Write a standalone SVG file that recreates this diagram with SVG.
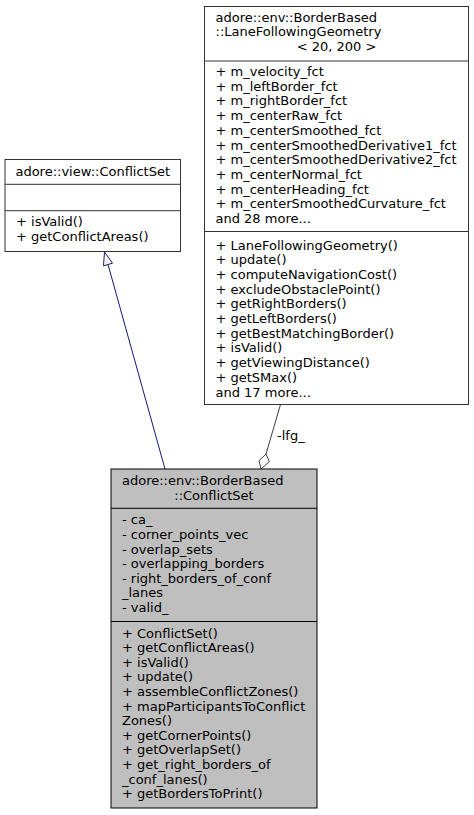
<svg xmlns="http://www.w3.org/2000/svg" width="474" height="815" viewBox="0 0 474 815">
<style>
text { font-family: "DejaVu Sans", sans-serif; font-size: 13px; fill: #000; }
.box { fill: #fff; stroke: #333; stroke-width: 1; }
.main { fill: #bfbfbf; stroke: #000; stroke-width: 1; }
.sep { stroke: #333; stroke-width: 1; }
.msep { stroke: #000; stroke-width: 1; }
.c { text-anchor: middle; }
</style>
<rect width="474" height="815" fill="#fff"/>
<g id="edges">
  <path d="M165,469 L108,264.5" stroke="#191970" fill="none"/>
  <polygon points="104.5,252 103.5,265.8 112.5,263.2" fill="#fff" stroke="#191970"/>
  <path d="M280.5,404.5 L266,454" stroke="#404040" fill="none"/>
  <polygon points="266,454 269.3,461.7 261,469 259,460.7" fill="#fff" stroke="#404040"/>
  <text x="277" y="440">-lfg_</text>
</g>
<g id="node-lfg">
  <rect class="box" x="204.5" y="6.5" width="264" height="398"/>
  <line class="sep" x1="204.5" y1="61" x2="468.5" y2="61"/>
  <line class="sep" x1="204.5" y1="231.5" x2="468.5" y2="231.5"/>
  <text x="215.5" y="21.5">adore::env::BorderBased</text>
  <text x="215.5" y="36.1">::LaneFollowingGeometry</text>
  <text class="c" x="336.5" y="50.7">&lt; 20, 200 &gt;</text>
  <text x="215.5" y="76">+ m_velocity_fct</text>
  <text x="215.5" y="90.7">+ m_leftBorder_fct</text>
  <text x="215.5" y="105.4">+ m_rightBorder_fct</text>
  <text x="215.5" y="120.1">+ m_centerRaw_fct</text>
  <text x="215.5" y="134.8">+ m_centerSmoothed_fct</text>
  <text x="215.5" y="149.5">+ m_centerSmoothedDerivative1_fct</text>
  <text x="215.5" y="164.2">+ m_centerSmoothedDerivative2_fct</text>
  <text x="215.5" y="178.9">+ m_centerNormal_fct</text>
  <text x="215.5" y="193.6">+ m_centerHeading_fct</text>
  <text x="215.5" y="208.3">+ m_centerSmoothedCurvature_fct</text>
  <text x="215.5" y="223">and 28 more...</text>
  <text x="215.5" y="249.5">+ LaneFollowingGeometry()</text>
  <text x="215.5" y="264.2">+ update()</text>
  <text x="215.5" y="278.9">+ computeNavigationCost()</text>
  <text x="215.5" y="293.6">+ excludeObstaclePoint()</text>
  <text x="215.5" y="308.3">+ getRightBorders()</text>
  <text x="215.5" y="323">+ getLeftBorders()</text>
  <text x="215.5" y="337.7">+ getBestMatchingBorder()</text>
  <text x="215.5" y="352.4">+ isValid()</text>
  <text x="215.5" y="367.1">+ getViewingDistance()</text>
  <text x="215.5" y="381.8">+ getSMax()</text>
  <text x="215.5" y="396.5">and 17 more...</text>
</g>
<g id="node-view-conflictset">
  <rect class="box" x="5" y="159.5" width="175.5" height="92"/>
  <line class="sep" x1="5" y1="184.3" x2="180.5" y2="184.3"/>
  <line class="sep" x1="5" y1="210.7" x2="180.5" y2="210.7"/>
  <text class="c" x="92.75" y="176">adore::view::ConflictSet</text>
  <text x="16" y="226">+ isValid()</text>
  <text x="16" y="240.5">+ getConflictAreas()</text>
</g>
<g id="node-env-conflictset">
  <rect class="main" x="111" y="469" width="206" height="339"/>
  <line class="msep" x1="111" y1="508.3" x2="317" y2="508.3"/>
  <line class="msep" x1="111" y1="621.5" x2="317" y2="621.5"/>
  <text x="122" y="485">adore::env::BorderBased</text>
  <text class="c" x="214" y="499.6">::ConflictSet</text>
  <text x="122" y="524.3">- ca_</text>
  <text x="122" y="538.9">- corner_points_vec</text>
  <text x="122" y="553.5">- overlap_sets</text>
  <text x="122" y="568.1">- overlapping_borders</text>
  <text x="122" y="582.7">- right_borders_of_conf</text>
  <text x="122" y="597.3">_lanes</text>
  <text x="122" y="611.9">- valid_</text>
  <text x="122" y="637.5">+ ConflictSet()</text>
  <text x="122" y="652.1">+ getConflictAreas()</text>
  <text x="122" y="666.7">+ isValid()</text>
  <text x="122" y="681.3">+ update()</text>
  <text x="122" y="695.9">+ assembleConflictZones()</text>
  <text x="122" y="710.5">+ mapParticipantsToConflict</text>
  <text x="122" y="725.1">Zones()</text>
  <text x="122" y="739.7">+ getCornerPoints()</text>
  <text x="122" y="754.3">+ getOverlapSet()</text>
  <text x="122" y="768.9">+ get_right_borders_of</text>
  <text x="122" y="783.5">_conf_lanes()</text>
  <text x="122" y="798.1">+ getBordersToPrint()</text>
</g>
</svg>
